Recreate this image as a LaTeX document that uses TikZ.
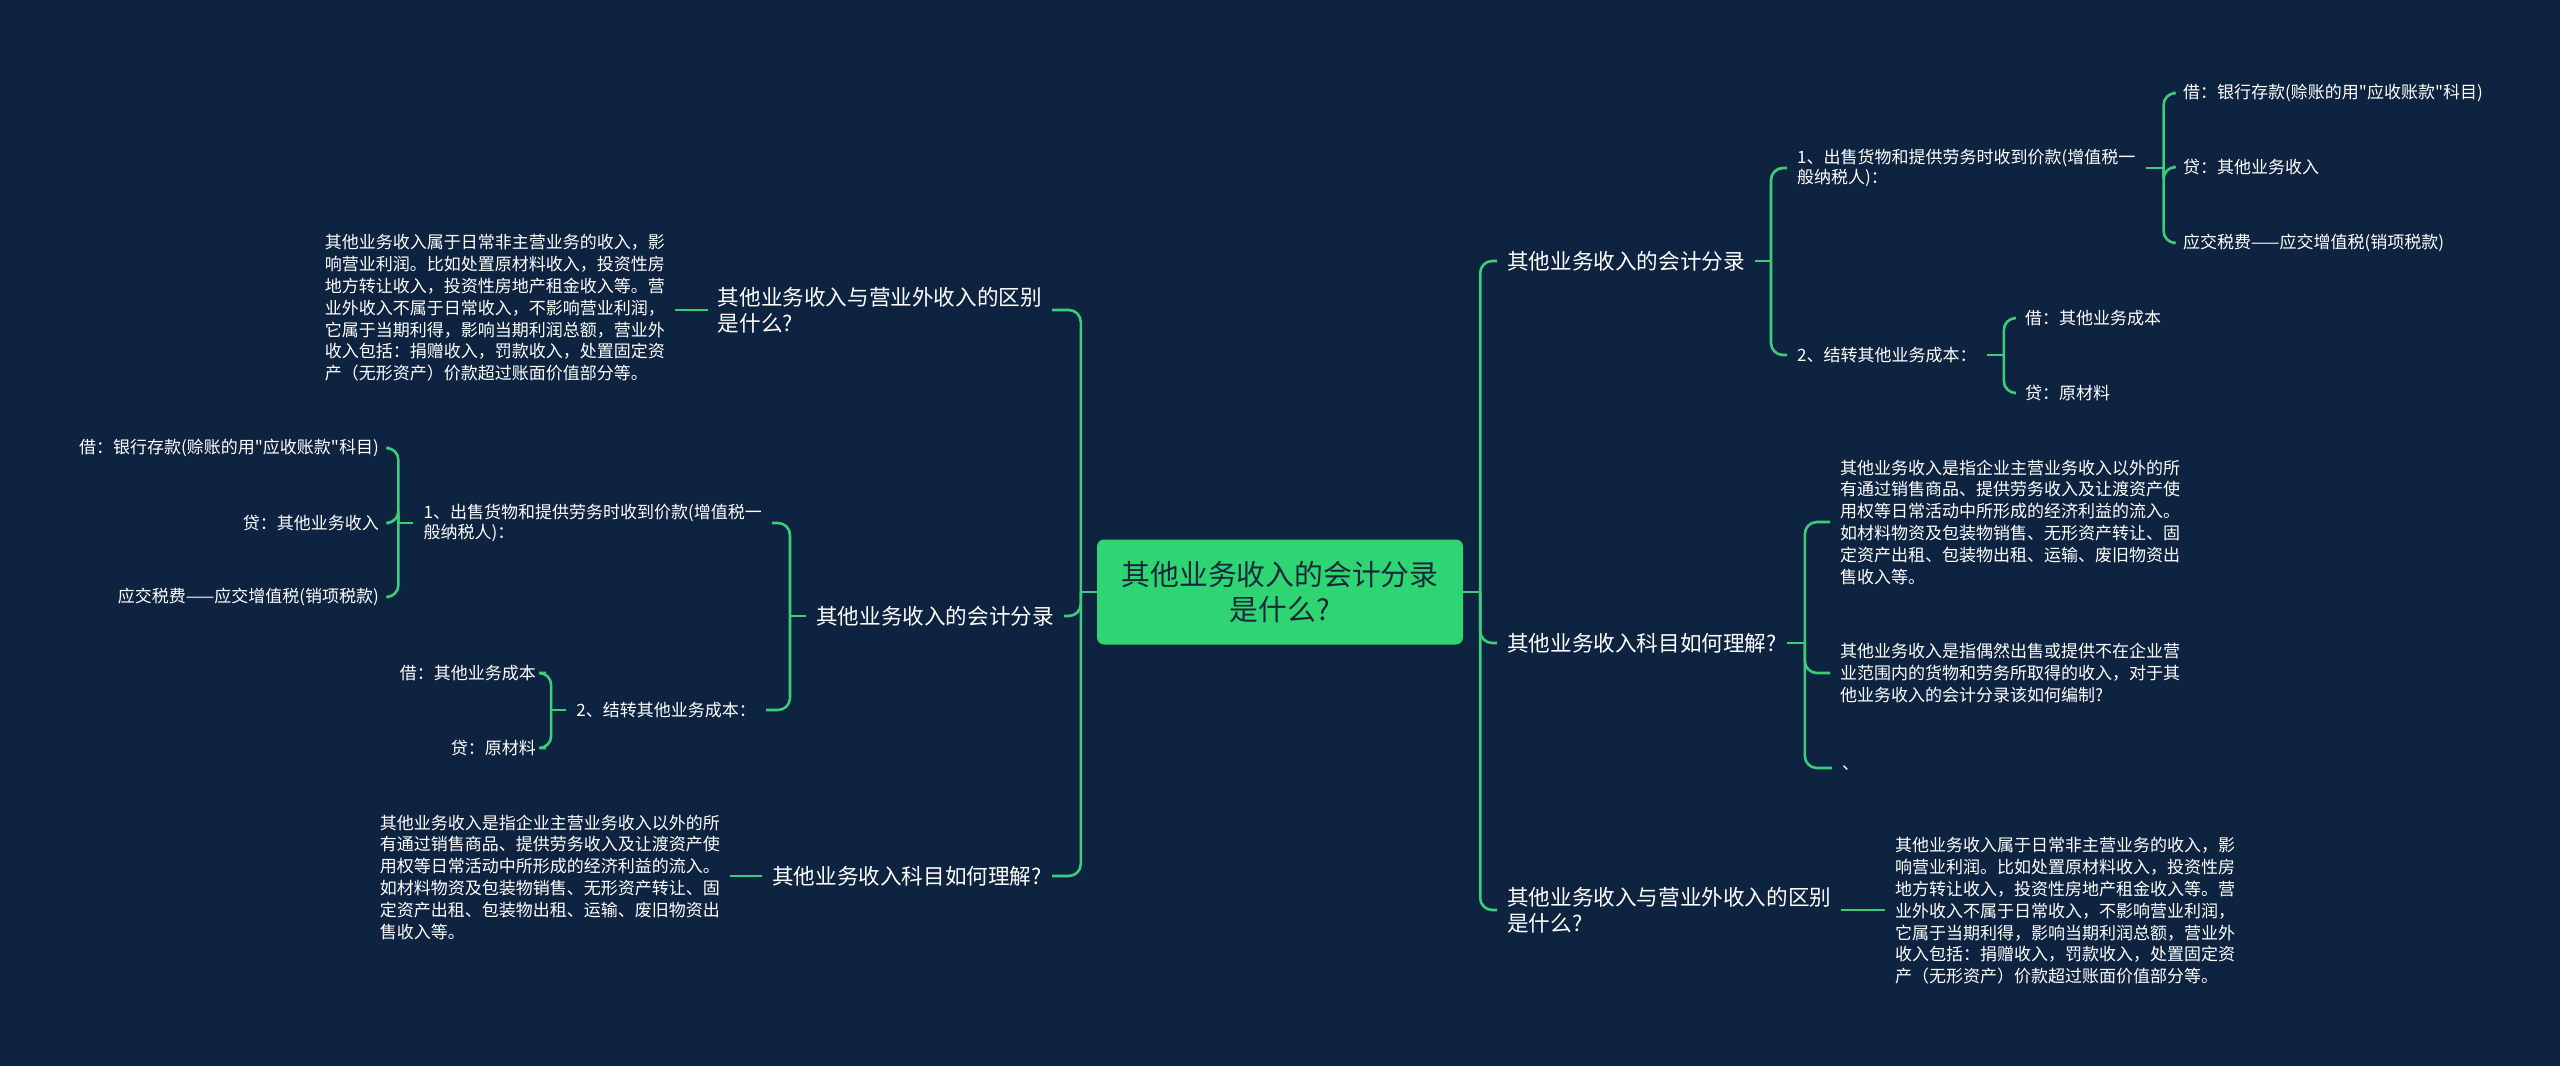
\documentclass[tikz,border=0pt]{standalone}
\usepackage{fontspec}
\setmainfont{Noto Sans CJK SC}
\newfontfamily\plainquote{Noto Sans CJK SC}
\usepackage{xcolor}
\usetikzlibrary{calc,positioning}
\definecolor{mapnavy}{HTML}{0E2340}
\definecolor{mapgreen}{HTML}{3DCB7C}
\definecolor{rootgreen}{HTML}{2FD573}
\definecolor{rootink}{HTML}{17293A}
\newcommand{\sq}{{\plainquote "}}
\tikzset{
  rootbox/.style={fill=rootgreen,rounded corners=7pt,minimum width=366pt,minimum height=105pt,align=center,text=rootink,font={\fontsize{28.8}{35}\selectfont}},
  mainitem/.style={text=white,align=left,inner xsep=10pt,inner ysep=2pt,font={\fontsize{21.6}{26}\selectfont}},
  subitem/.style={text=white,align=left,inner xsep=10pt,inner ysep=2pt,font={\fontsize{17}{20.5}\selectfont}},
  noteitem/.style={subitem,font={\fontsize{17}{21.8}\selectfont}},
  link/.style={mapgreen,line width=2.6pt,rounded corners=12pt}
}

\begin{document}
\begin{tikzpicture}[x=1pt,y=-1pt]
\fill[mapnavy] (0,0) rectangle (2560,1066);
\useasboundingbox (0,0) rectangle (2560,1066);
\node[rootbox] (root) at (1280,592) {其他业务收入的会计分录\\是什么?};

% right half
\node[mainitem,anchor=west] (racc) at (1497,261) {其他业务收入的会计分录};
\node[subitem,anchor=west] (rsell) at (1787,168) {1、出售货物和提供劳务时收到价款(增值税一\\般纳税人)：};
\node[subitem,anchor=west] (rcarry) at (1787,355) {2、结转其他业务成本：};
\node[subitem,anchor=west] (rdebit) at (2173,93) {借：银行存款(赊账的用\sq 应收账款\sq 科目)};
\node[subitem,anchor=west] (rcredit) at (2173,167) {贷：其他业务收入};
\node[subitem,anchor=west] (rtax) at (2173,243) {应交税费——应交增值税(销项税款)};
\node[subitem,anchor=west] (rcost) at (2015,318) {借：其他业务成本};
\node[subitem,anchor=west] (rmat) at (2015,393) {贷：原材料};
\node[mainitem,anchor=west] (rsubj) at (1497,643) {其他业务收入科目如何理解?};
\node[noteitem,anchor=west] (rdef) at (1830,522) {其他业务收入是指企业主营业务收入以外的所\\有通过销售商品、提供劳务收入及让渡资产使\\用权等日常活动中所形成的经济利益的流入。\\如材料物资及包装物销售、无形资产转让、固\\定资产出租、包装物出租、运输、废旧物资出\\售收入等。};
\node[noteitem,anchor=west] (rq) at (1830,673) {其他业务收入是指偶然出售或提供不在企业营\\业范围内的货物和劳务所取得的收入，对于其\\他业务收入的会计分录该如何编制?};
\node[noteitem,anchor=west] (rdot) at (1832,768) {、};
\node[mainitem,anchor=west] (rdiff) at (1497,910) {其他业务收入与营业外收入的区别\\是什么?};
\node[noteitem,anchor=west] (rdiffnote) at (1885,911) {其他业务收入属于日常非主营业务的收入，影\\响营业利润。比如处置原材料收入，投资性房\\地方转让收入，投资性房地产租金收入等。营\\业外收入不属于日常收入，不影响营业利润，\\它属于当期利得，影响当期利润总额，营业外\\收入包括：捐赠收入，罚款收入，处置固定资\\产（无形资产）价款超过账面价值部分等。};

% left half
\node[mainitem,anchor=east] (ldiff) at (1052,310) {其他业务收入与营业外收入的区别\\是什么?};
\node[noteitem,anchor=east] (ldiffnote) at (675,308) {其他业务收入属于日常非主营业务的收入，影\\响营业利润。比如处置原材料收入，投资性房\\地方转让收入，投资性房地产租金收入等。营\\业外收入不属于日常收入，不影响营业利润，\\它属于当期利得，影响当期利润总额，营业外\\收入包括：捐赠收入，罚款收入，处置固定资\\产（无形资产）价款超过账面价值部分等。};
\node[mainitem,anchor=east] (lacc) at (1064,616) {其他业务收入的会计分录};
\node[subitem,anchor=east] (lsell) at (772,523) {1、出售货物和提供劳务时收到价款(增值税一\\般纳税人)：};
\node[subitem,anchor=east] (lcarry) at (766,710) {2、结转其他业务成本：};
\node[subitem,anchor=east] (ldebit) at (389,448) {借：银行存款(赊账的用\sq 应收账款\sq 科目)};
\node[subitem,anchor=east] (lcredit) at (389,523) {贷：其他业务收入};
\node[subitem,anchor=east] (ltax) at (389,597) {应交税费——应交增值税(销项税款)};
\node[subitem,anchor=east] (lcost) at (546,673) {借：其他业务成本};
\node[subitem,anchor=east] (lmat) at (546,748) {贷：原材料};
\node[mainitem,anchor=east] (lsubj) at (1052,876) {其他业务收入科目如何理解?};
\node[noteitem,anchor=east] (ldef) at (730,877) {其他业务收入是指企业主营业务收入以外的所\\有通过销售商品、提供劳务收入及让渡资产使\\用权等日常活动中所形成的经济利益的流入。\\如材料物资及包装物销售、无形资产转让、固\\定资产出租、包装物出租、运输、废旧物资出\\售收入等。};

% spines
\coordinate (rs) at ($(root.east)+(17,0)$);
\coordinate (ls) at ($(root.west)+(-16,0)$);
\coordinate (raccs) at ($(racc.east)+(16,0)$);
\coordinate (rsells) at ($(rsell.east)+(18,0)$);
\coordinate (rcarrys) at ($(rcarry.east)+(17,0)$);
\coordinate (rsubjs) at ($(rsubj.east)+(18,0)$);
\coordinate (laccs) at ($(lacc.west)+(-16,0)$);
\coordinate (lsells) at ($(lsell.west)+(-15,0)$);
\coordinate (lcarrys) at ($(lcarry.west)+(-15,0)$);

\draw[link] (root.east) -- (rs);
\foreach \kid in {racc,rsubj,rdiff} \draw[link] (rs) |- (\kid.west);
\draw[link] (racc.east) -- (raccs);
\foreach \kid in {rsell,rcarry} \draw[link] (raccs) |- (\kid.west);
\draw[link] (rsell.east) -- (rsells);
\foreach \kid in {rdebit,rcredit,rtax} \draw[link] (rsells) |- (\kid.west);
\draw[link] (rcarry.east) -- (rcarrys);
\foreach \kid in {rcost,rmat} \draw[link] (rcarrys) |- (\kid.west);
\draw[link] (rsubj.east) -- (rsubjs);
\foreach \kid in {rdef,rq,rdot} \draw[link] (rsubjs) |- (\kid.west);
\draw[link] (rdiff.east) -- (rdiff.east -| rdiffnote.west);

\draw[link] (root.west) -- (ls);
\foreach \kid in {ldiff,lacc,lsubj} \draw[link] (ls) |- (\kid.east);
\draw[link] (ldiff.west) -- (ldiff.west -| ldiffnote.east);
\draw[link] (lacc.west) -- (laccs);
\foreach \kid in {lsell,lcarry} \draw[link] (laccs) |- (\kid.east);
\draw[link] (lsell.west) -- (lsells);
\foreach \kid in {ldebit,lcredit,ltax} \draw[link] (lsells) |- (\kid.east);
\draw[link] (lcarry.west) -- (lcarrys);
\foreach \kid in {lcost,lmat} \draw[link] (lcarrys) |- (\kid.east);
\draw[link] (lsubj.west) -- (lsubj.west -| ldef.east);
\end{tikzpicture}
\end{document}
